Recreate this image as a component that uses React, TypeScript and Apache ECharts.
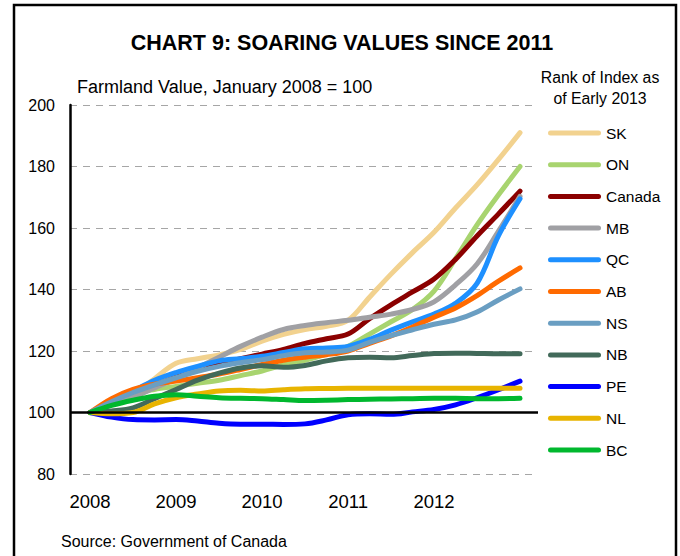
import React, { useEffect, useRef } from "react";
import * as echarts from "echarts";

// Quarter positions (years), Jan 2008 .. Jan 2013
const periods = [
  2008, 2008.25, 2008.5, 2008.75, 2009, 2009.25, 2009.5, 2009.75, 2010, 2010.25, 2010.5,
  2010.75, 2011, 2011.25, 2011.5, 2011.75, 2012, 2012.25, 2012.5, 2012.75, 2013,
];
const yearTicks = [2008, 2009, 2010, 2011, 2012];

const SK = [100, 102.5, 106, 111, 116, 117.5, 118.7, 120.5, 123.2, 125.4, 127, 128, 130, 137.5, 145, 152, 158.6, 166.5, 174, 182.3, 191];
const ON = [100, 103, 106, 107.5, 108.5, 109.5, 110.5, 112, 113.5, 115.5, 117, 119, 121.5, 125.5, 129.5, 133.5, 139.5, 150, 161, 170.8, 180];
const Canada = [100, 103, 106.5, 109, 111.5, 114, 116, 117.5, 119, 120.5, 122.5, 124, 125.5, 130.5, 135, 139.2, 143.4, 149.8, 157.4, 164.6, 172];
const MB = [100, 102.5, 105, 108, 111, 114.5, 118, 121.5, 124.5, 127, 128.3, 129.2, 130, 131, 132, 133.5, 136, 141.5, 148.3, 159, 170.3];
const QC = [100, 103.5, 107, 110.5, 113, 115, 116.8, 117.5, 118.3, 119.5, 120.7, 121, 121.5, 123.8, 126.8, 129.5, 132, 135.5, 142, 157.5, 169.5];
const AB = [100, 104.5, 107.5, 109.2, 110.2, 111.3, 112.5, 114, 115.6, 117, 118, 118.8, 120, 122.5, 124.9, 127.8, 131, 134, 138, 142.7, 147];
const NS = [100, 103.5, 106.5, 109, 111.3, 113.4, 115, 116.2, 117.2, 118.5, 119.4, 119.7, 120.3, 122.8, 125, 126.9, 128.7, 130.1, 132.7, 136.6, 140.2];
const NB = [100, 100.5, 101.5, 104.5, 107.5, 110.5, 112.8, 114.5, 115.2, 114.7, 115.3, 116.8, 117.8, 118, 117.8, 118.5, 119.2, 119.3, 119.2, 119.1, 119.1];
const PE = [100, 98.5, 97.7, 97.6, 97.7, 97.2, 96.5, 96.2, 96.2, 96.1, 96.3, 97.6, 99.3, 99.6, 99.4, 100.2, 101, 102.5, 104.8, 107.4, 110.2];
const NL = [100, 99.6, 100, 102.8, 104.8, 106, 107, 107.2, 107, 107.4, 107.7, 107.8, 107.9, 107.9, 107.9, 107.9, 107.9, 107.9, 107.9, 107.9, 107.9];
const BC = [100, 102.3, 104, 105.3, 105.8, 105.3, 104.8, 104.6, 104.5, 104.2, 103.9, 104, 104.2, 104.3, 104.4, 104.5, 104.6, 104.6, 104.5, 104.5, 104.6];

const seriesNames = ["SK", "ON", "Canada", "MB", "QC", "AB", "NS", "NB", "PE", "NL", "BC"];
const seriesValues = [SK, ON, Canada, MB, QC, AB, NS, NB, PE, NL, BC];
const seriesColors = [
  "#F2D28F", "#A8D46F", "#8B0000", "#A0A0A4", "#1E90FF", "#FF6A00",
  "#6A9EC2", "#426A5A", "#0000FF", "#E8B400", "#00B82E",
];

const FONT = '"Liberation Sans", Arial, Helvetica, sans-serif';
const LEGEND_ICON =
  "path://M2.5,0 L50.5,0 A2.5,2.5 0 0 1 50.5,5 L2.5,5 A2.5,2.5 0 0 1 2.5,0 Z";

export default function App() {
  const ref = useRef<HTMLDivElement>(null);

  useEffect(() => {
    if (!ref.current) return;
    const chart = echarts.init(ref.current, null, { renderer: "svg" });

    const series = seriesNames.map((name, i) => ({
      name,
      type: "line",
      data: periods.map((p, j) => [p, seriesValues[i][j]]),
      smooth: 0.35,
      symbol: "none",
      showSymbol: false,
      lineStyle: { color: seriesColors[i], width: 5, cap: "round", join: "round" },
      itemStyle: { color: seriesColors[i] },
      ...(i === 0
        ? {
            markLine: {
              silent: true,
              symbol: "none",
              label: { show: false },
              lineStyle: { color: "#000", width: 2.5, type: "solid" },
              data: [{ yAxis: 100 }],
            },
          }
        : {}),
    }));

    chart.setOption({
      animation: false,
      backgroundColor: "#fff",
      textStyle: { fontFamily: FONT },
      grid: { left: 70, right: 142, top: 105, bottom: 82, containLabel: false },
      xAxis: {
        type: "value",
        min: 2007.767,
        max: 2013.209,
        axisLine: { show: false },
        axisTick: { show: false },
        splitLine: { show: false },
        axisLabel: {
          customValues: yearTicks,
          formatter: (v: number) => String(Math.round(v)),
          color: "#000",
          fontSize: 18.5,
          fontFamily: FONT,
          margin: 18,
        },
      },
      yAxis: {
        type: "value",
        min: 80,
        max: 200,
        interval: 20,
        axisLine: { show: true, lineStyle: { color: "#000", width: 2.5 } },
        axisTick: { show: false },
        axisLabel: { color: "#000", fontSize: 16, fontFamily: FONT, margin: 15 },
        splitLine: {
          show: true,
          lineStyle: { color: "#A6A6A6", width: 1, type: [7, 6] },
        },
      },
      legend: {
        orient: "vertical",
        left: 548,
        top: 124,
        padding: 0,
        itemWidth: 53,
        itemHeight: 5,
        itemGap: 13.7,
        icon: LEGEND_ICON,
        data: seriesNames,
        textStyle: { color: "#000", fontSize: 15.5, fontFamily: FONT, lineHeight: 18 },
        selectedMode: false,
      },
      graphic: [
        {
          type: "rect",
          shape: { x: 14, y: 5, width: 662, height: 600 },
          style: { fill: "none", stroke: "#000", lineWidth: 2.5 },
          z: 10,
        },
        {
          type: "text",
          x: 342,
          y: 43,
          style: {
            text: "CHART 9: SOARING VALUES SINCE 2011",
            fill: "#000",
            fontSize: 21.5,
            fontWeight: "bold",
            fontFamily: FONT,
            align: "center",
            verticalAlign: "middle",
          },
        },
        {
          type: "text",
          x: 77,
          y: 87,
          style: {
            text: "Farmland Value, January 2008 = 100",
            fill: "#000",
            fontSize: 18,
            fontFamily: FONT,
            align: "left",
            verticalAlign: "middle",
          },
        },
        {
          type: "text",
          x: 600,
          y: 77,
          style: {
            text: "Rank of Index as",
            fill: "#000",
            fontSize: 15.8,
            fontFamily: FONT,
            align: "center",
            verticalAlign: "middle",
          },
        },
        {
          type: "text",
          x: 600,
          y: 98,
          style: {
            text: "of Early 2013",
            fill: "#000",
            fontSize: 15.8,
            fontFamily: FONT,
            align: "center",
            verticalAlign: "middle",
          },
        },
        {
          type: "text",
          x: 61,
          y: 541,
          style: {
            text: "Source: Government of Canada",
            fill: "#000",
            fontSize: 16,
            fontFamily: FONT,
            align: "left",
            verticalAlign: "middle",
          },
        },
      ],
      series,
    });

    return () => chart.dispose();
  }, []);

  return (
    <div
      ref={ref}
      style={{ position: "absolute", left: 0, top: 0, width: 680, height: 556, background: "#fff" }}
    />
  );
}
